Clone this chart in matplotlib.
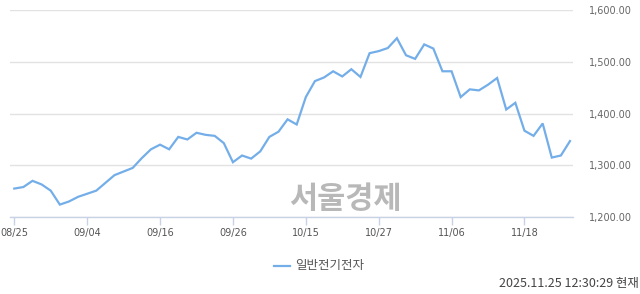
import matplotlib
matplotlib.use("Agg")
import matplotlib.pyplot as plt
from matplotlib.lines import Line2D

plt.rcParams['font.family'] = ['Noto Sans CJK KR', 'DejaVu Sans']

# daily close, 08/25 .. 11/25
prices = [1255, 1258, 1270, 1263, 1251, 1224, 1230, 1239, 1245, 1251,
          1266, 1281, 1288, 1295, 1314, 1331, 1340, 1331, 1355, 1350,
          1363, 1359, 1357, 1343, 1306, 1319, 1313, 1327, 1355, 1365,
          1389, 1379, 1432, 1463, 1470, 1482, 1472, 1486, 1471, 1517,
          1521, 1527, 1546, 1513, 1506, 1534, 1526, 1482, 1482, 1432,
          1447, 1445, 1456, 1469, 1408, 1421, 1367, 1357, 1381, 1315,
          1319, 1347]
tick_pos = [0, 8, 16, 24, 32, 40, 48, 56]
tick_labels = ['08/25', '09/04', '09/16', '09/26', '10/15', '10/27', '11/06', '11/18']
y_ticks = [1200, 1300, 1400, 1500, 1600]
series_name = '일반전기전자'
stamp = '2025.11.25 12:30:29 현재'
watermark = '서울경제'

line_color = '#74aee9'

fig = plt.figure(figsize=(6.4, 2.94), dpi=100)
W, H = 640, 294
ax = fig.add_axes([10 / W, (H - 217) / H, (573 - 10) / W, (217 - 10.3) / H])

x = list(range(len(prices)))
ax.plot(x, prices, color=line_color, lw=1.6, solid_joinstyle='miter', zorder=3)

ax.set_xlim(-0.47, 61.33)
ax.set_ylim(1200, 1600)

ax.set_yticks(y_ticks)
ax.set_yticklabels([f'{v:,.2f}' for v in y_ticks])
ax.yaxis.tick_right()
ax.tick_params(axis='y', length=0, pad=11.5, labelsize=7, labelcolor='#666666')
ax.grid(axis='y', color='#e2e2e2', lw=1)

ax.set_xticks(tick_pos)
ax.set_xticklabels(tick_labels)
ax.tick_params(axis='x', length=6, width=1, color='#c8d2e6', pad=2,
               labelsize=7, labelcolor='#555555')
for lab in ax.get_xticklabels() + ax.get_yticklabels():
    lab.set_family('DejaVu Sans')

for s in ['top', 'left', 'right']:
    ax.spines[s].set_visible(False)
ax.spines['bottom'].set_color('#c8d2e6')
ax.spines['bottom'].set_linewidth(1)
ax.set_axisbelow(True)

fig.text(345 / W, 1 - 199 / H, watermark, ha='center', va='center',
         fontsize=22, fontweight='bold', color='#b8b8b8', zorder=1)

fig.add_artist(Line2D([274 / W, 290 / W], [1 - 266 / H] * 2, color=line_color, lw=1.6))
fig.text(295 / W, 1 - 266 / H, series_name, ha='left', va='center',
         fontsize=9, color='#555555')
fig.text(639 / W, 1 - 283 / H, stamp, ha='right', va='center',
         fontsize=9, color='#444444')

fig.savefig('out.png', dpi=100)
